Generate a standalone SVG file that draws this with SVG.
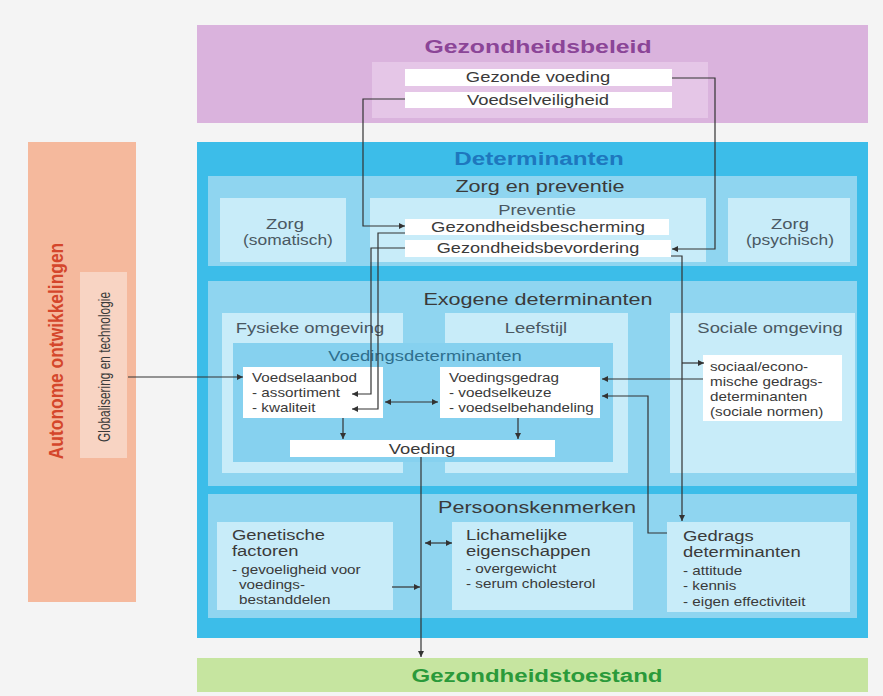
<svg xmlns="http://www.w3.org/2000/svg" width="883" height="696" viewBox="0 0 883 696">
<defs>
<style>
text{font-family:"Liberation Sans",Arial,Helvetica,sans-serif;fill:#3a3a3a}
.c{text-anchor:middle}
.b{font-weight:bold;font-size:18.5px}
.h{font-size:17px}
.m{font-size:14.5px}
.s{font-size:12px}
.k{fill:#4a5862}
.pu{fill:#8b4597}
.bl{fill:#1e77be}
.gr{fill:#2a9a3a}
.or{fill:#d4462b}
.vd{fill:#2e6f8e}
.l2{fill:#8fd5f0}
.l3{fill:#c8ecf9}
.w{fill:#ffffff}
#connectors path{stroke:#333;stroke-width:1.2;fill:none}
.a{marker-end:url(#ah)}
.d{marker-start:url(#ah);marker-end:url(#ah)}
</style>
<marker id="ah" viewBox="0 0 10 10" refX="10" refY="5" markerWidth="8" markerHeight="6" markerUnits="userSpaceOnUse" orient="auto-start-reverse">
<path d="M0,0 L10,5 L0,10 z" fill="#333"/>
</marker>
</defs>
<rect width="883" height="696" fill="#f4f4f4"/>

<g id="gezondheidsbeleid">
<rect x="197" y="25" width="671" height="98" fill="#dab3dd"/>
<rect x="372" y="62" width="336" height="56" fill="#e5c6e7"/>
<text class="c b pu" transform="translate(538 53) scale(1.34 1)">Gezondheidsbeleid</text>
</g>
<g id="gezonde-voeding">
<rect x="405" y="69" width="267" height="17" class="w"/>
<text class="c m" transform="translate(538 82) scale(1.27 1)">Gezonde voeding</text>
</g>
<g id="voedselveiligheid">
<rect x="405" y="92" width="267" height="16" class="w"/>
<text class="c m" transform="translate(538 105) scale(1.27 1)">Voedselveiligheid</text>
</g>

<g id="autonome-ontwikkelingen">
<rect x="28" y="142" width="108" height="460" fill="#f5b99d"/>
<text class="c or" style="font-weight:bold;font-size:20px" dominant-baseline="central" transform="translate(56 351) rotate(-90) scale(0.87 1)">Autonome ontwikkelingen</text>
</g>
<g id="globalisering">
<rect x="80" y="272" width="47" height="186" fill="#f8d4c3"/>
<text class="c" style="font-size:17px" dominant-baseline="central" transform="translate(104 367) rotate(-90) scale(0.7 1)">Globalisering en technologie</text>
</g>

<g id="determinanten">
<rect x="197" y="142" width="671" height="496" fill="#3cbde9"/>
<text class="c b bl" transform="translate(539 165) scale(1.31 1)">Determinanten</text>
</g>

<g id="zorg-en-preventie">
<rect x="208" y="176" width="649" height="90" class="l2"/>
<text class="c h" transform="translate(540 192) scale(1.27 1)">Zorg en preventie</text>
</g>
<g id="zorg-somatisch">
<rect x="220" y="198" width="126" height="64" class="l3"/>
<text class="c m k" transform="translate(285 229) scale(1.27 1)">Zorg</text>
<text class="c m k" transform="translate(288 245) scale(1.2 1)">(somatisch)</text>
</g>
<g id="preventie">
<rect x="370" y="198" width="336" height="64" class="l3"/>
<text class="c m k" transform="translate(537 215) scale(1.27 1)">Preventie</text>
</g>
<g id="gezondheidsbescherming">
<rect x="405" y="219" width="264" height="16" class="w"/>
<text class="c m" transform="translate(538 232) scale(1.27 1)">Gezondheidsbescherming</text>
</g>
<g id="gezondheidsbevordering">
<rect x="405" y="240" width="266" height="17" class="w"/>
<text class="c m" transform="translate(538 253) scale(1.25 1)">Gezondheidsbevordering</text>
</g>
<g id="zorg-psychisch">
<rect x="728" y="198" width="122" height="64" class="l3"/>
<text class="c m k" transform="translate(790 229) scale(1.27 1)">Zorg</text>
<text class="c m k" transform="translate(790 245) scale(1.2 1)">(psychisch)</text>
</g>

<g id="exogene-determinanten">
<rect x="208" y="281" width="649" height="205" class="l2"/>
<text class="c h" transform="translate(538 305) scale(1.27 1)">Exogene determinanten</text>
</g>
<g id="fysieke-omgeving">
<rect x="222" y="313" width="181" height="160" class="l3"/>
<text class="c m k" transform="translate(310 333) scale(1.27 1)">Fysieke omgeving</text>
</g>
<g id="leefstijl">
<rect x="445" y="313" width="183" height="160" class="l3"/>
<text class="c m k" transform="translate(536 333) scale(1.27 1)">Leefstijl</text>
</g>
<g id="voedingsdeterminanten">
<rect x="233" y="343" width="380" height="119" fill="#86d1ef"/>
<text class="c m vd" transform="translate(425 361) scale(1.27 1)">Voedingsdeterminanten</text>
</g>
<g id="voedselaanbod">
<rect x="243" y="367" width="140" height="51" class="w"/>
<text class="s" transform="translate(252 0) scale(1.27 1)"><tspan x="0" y="382">Voedselaanbod</tspan><tspan x="0" y="397">- assortiment</tspan><tspan x="0" y="412">- kwaliteit</tspan></text>
</g>
<g id="voedingsgedrag">
<rect x="440" y="367" width="160" height="51" class="w"/>
<text class="s" transform="translate(449 0) scale(1.27 1)"><tspan x="0" y="382">Voedingsgedrag</tspan><tspan x="0" y="397">- voedselkeuze</tspan><tspan x="0" y="412">- voedselbehandeling</tspan></text>
</g>
<g id="voeding">
<rect x="290" y="440" width="265" height="17" class="w"/>
<text class="c m" transform="translate(422 454) scale(1.27 1)">Voeding</text>
</g>
<g id="sociale-omgeving">
<rect x="670" y="313" width="185" height="160" class="l3"/>
<text class="c m k" transform="translate(770 333) scale(1.27 1)">Sociale omgeving</text>
</g>
<g id="sociaal-economische-determinanten">
<rect x="703" y="355" width="139" height="66" class="w"/>
<text class="s" transform="translate(710 0) scale(1.27 1)"><tspan x="0" y="371">sociaal/econo-</tspan><tspan x="0" y="386">mische gedrags-</tspan><tspan x="0" y="401">determinanten</tspan><tspan x="0" y="416">(sociale normen)</tspan></text>
</g>

<g id="persoonskenmerken">
<rect x="208" y="494" width="649" height="124" class="l2"/>
<text class="c h" transform="translate(537 513) scale(1.27 1)">Persoonskenmerken</text>
</g>
<g id="genetische-factoren">
<rect x="217" y="522" width="176" height="88" class="l3"/>
<text class="m" transform="translate(232 0) scale(1.27 1)"><tspan x="0" y="540">Genetische</tspan><tspan x="0" y="556">factoren</tspan></text>
<text class="s" transform="translate(232 0) scale(1.27 1)"><tspan x="0" y="574">- gevoeligheid voor</tspan><tspan x="5.5" y="589">voedings-</tspan><tspan x="5.5" y="604">bestanddelen</tspan></text>
</g>
<g id="lichamelijke-eigenschappen">
<rect x="452" y="522" width="181" height="88" class="l3"/>
<text class="m" transform="translate(466 0) scale(1.27 1)"><tspan x="0" y="540">Lichamelijke</tspan><tspan x="0" y="556">eigenschappen</tspan></text>
<text class="s" transform="translate(466 0) scale(1.27 1)"><tspan x="0" y="573">- overgewicht</tspan><tspan x="0" y="588">- serum cholesterol</tspan></text>
</g>
<g id="gedragsdeterminanten">
<rect x="667" y="522" width="183" height="90" class="l3"/>
<text class="m" transform="translate(683 0) scale(1.27 1)"><tspan x="0" y="541">Gedrags</tspan><tspan x="0" y="557">determinanten</tspan></text>
<text class="s" transform="translate(683 0) scale(1.27 1)"><tspan x="0" y="575">- attitude</tspan><tspan x="0" y="590">- kennis</tspan><tspan x="0" y="606">- eigen effectiviteit</tspan></text>
</g>

<g id="gezondheidstoestand">
<rect x="197" y="658" width="671" height="34" fill="#c6e5a0"/>
<text class="c b gr" transform="translate(537 682) scale(1.3 1)">Gezondheidstoestand</text>
</g>

<g id="connectors">
<path class="a" d="M672,78 H715 V249 H672"/>
<path class="a" d="M405,99 H363 V226 H405"/>
<path class="a" d="M405,233 H378 V409 H352"/>
<path class="a" d="M405,248 H371 V394 H352"/>
<path class="a" d="M671,256 H682 V521"/>
<path class="a" d="M682,363 H704"/>
<path class="a" d="M703,379 H602"/>
<path class="a" d="M667,533 H648 V396 H602"/>
<path class="d" d="M385,402 H438"/>
<path class="a" d="M343,418 V439"/>
<path class="a" d="M518,418 V439"/>
<path class="a" d="M421,457 V657"/>
<path class="a" d="M392,587 H420"/>
<path class="d" d="M425,543 H452"/>
<path class="a" d="M128,377 H243"/>
</g>
</svg>
